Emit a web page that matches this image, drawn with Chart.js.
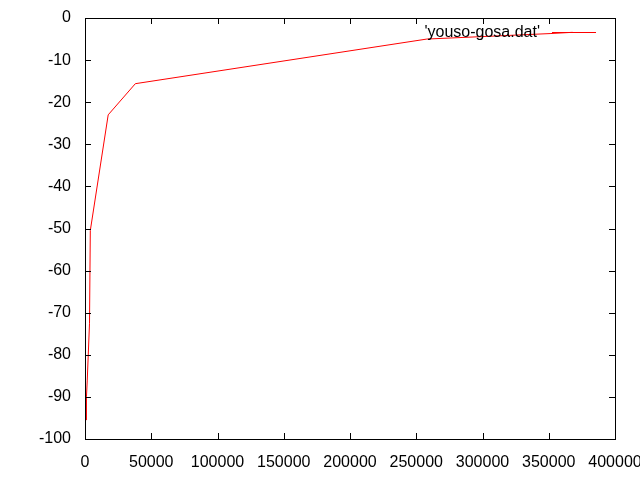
<!DOCTYPE html>
<html>
<head>
<meta charset="utf-8">
<script src="https://cdn.jsdelivr.net/npm/chart.js@4/dist/chart.umd.min.js"></script>
<style>
  html, body { margin: 0; padding: 0; background: #fff; }
  canvas { display: block; }
</style>
</head>
<body>
<canvas id="gosa" width="640" height="480"></canvas>
<script>
// element count vs. error
var elements = [1000, 1100, 1700, 3400, 4000, 17500, 38000, 258000, 351000, 368000];
var errors   = [-95.5, -90, -86, -72.5, -50.5, -23, -15.6, -5.0, -3.7, -3.4];
var seriesName = "'youso-gosa.dat'";

var xMin = 0, xMax = 400000, xStep = 50000;
var yMin = -100, yMax = 0, yStep = 10;

var fontFamily = '"Liberation Sans", Arial, sans-serif';

var points = elements.map(function (v, i) { return { x: v, y: errors[i] }; });

// gnuplot style: box border, inward ticks on all four sides, key top right
var gnuFrame = {
    id: 'gnuFrame',
    afterDatasetsDraw: function (chart) {
        var ctx = chart.ctx;
        var a = chart.chartArea;
        var sx = chart.scales.x, sy = chart.scales.y;
        var len = 6;
        ctx.save();
        ctx.strokeStyle = '#000';
        ctx.lineWidth = 1;
        ctx.beginPath();
        sx.ticks.forEach(function (t) {
            var px = Math.round(sx.getPixelForValue(t.value)) + 0.5;
            ctx.moveTo(px, a.bottom); ctx.lineTo(px, a.bottom - len);
            ctx.moveTo(px, a.top); ctx.lineTo(px, a.top + len);
        });
        sy.ticks.forEach(function (t) {
            var py = Math.round(sy.getPixelForValue(t.value)) + 0.5;
            ctx.moveTo(a.left, py); ctx.lineTo(a.left + len, py);
            ctx.moveTo(a.right, py); ctx.lineTo(a.right - len, py);
        });
        ctx.stroke();
        ctx.strokeRect(Math.round(a.left) + 0.5, Math.round(a.top) + 0.5,
                       Math.round(a.width), Math.round(a.height));

        // key
        var ky = Math.round(a.top + 14) + 0.5;
        ctx.font = '16px ' + fontFamily;
        ctx.fillStyle = '#000';
        ctx.textAlign = 'right';
        ctx.textBaseline = 'middle';
        ctx.fillText(chart.data.datasets[0].label, a.right - 75, ky);
        ctx.strokeStyle = chart.data.datasets[0].borderColor;
        ctx.beginPath();
        ctx.moveTo(a.right - 63, ky);
        ctx.lineTo(a.right - 19, ky);
        ctx.stroke();
        ctx.restore();
    }
};

new Chart(document.getElementById('gosa'), {
    type: 'line',
    data: {
        datasets: [{
            label: seriesName,
            data: points,
            borderColor: '#ff0000',
            borderWidth: 1,
            pointRadius: 0,
            tension: 0,
            fill: false
        }]
    },
    options: {
        responsive: false,
        animation: false,
        layout: { padding: { top: 18, right: 25, left: 0, bottom: 0 } },
        plugins: {
            legend: { display: false },
            tooltip: { enabled: false }
        },
        scales: {
            x: {
                type: 'linear',
                min: xMin,
                max: xMax,
                grid: { display: false, drawTicks: false },
                border: { display: false },
                ticks: {
                    stepSize: xStep,
                    padding: 14,
                    maxRotation: 0,
                    autoSkip: false,
                    color: '#000',
                    font: { family: fontFamily, size: 16 },
                    callback: function (v) { return String(v); }
                },
                afterFit: function (s) {
                    s.height = 41;
                    s.paddingLeft = 0;
                    s.paddingRight = 0;
                }
            },
            y: {
                type: 'linear',
                min: yMin,
                max: yMax,
                grid: { display: false, drawTicks: false },
                border: { display: false },
                ticks: {
                    stepSize: yStep,
                    padding: 14,
                    autoSkip: false,
                    color: '#000',
                    font: { family: fontFamily, size: 16 },
                    callback: function (v) { return String(v); }
                },
                afterFit: function (s) {
                    s.width = 85;
                    s.paddingTop = 0;
                    s.paddingBottom = 0;
                }
            }
        }
    },
    plugins: [gnuFrame]
});
</script>
</body>
</html>
